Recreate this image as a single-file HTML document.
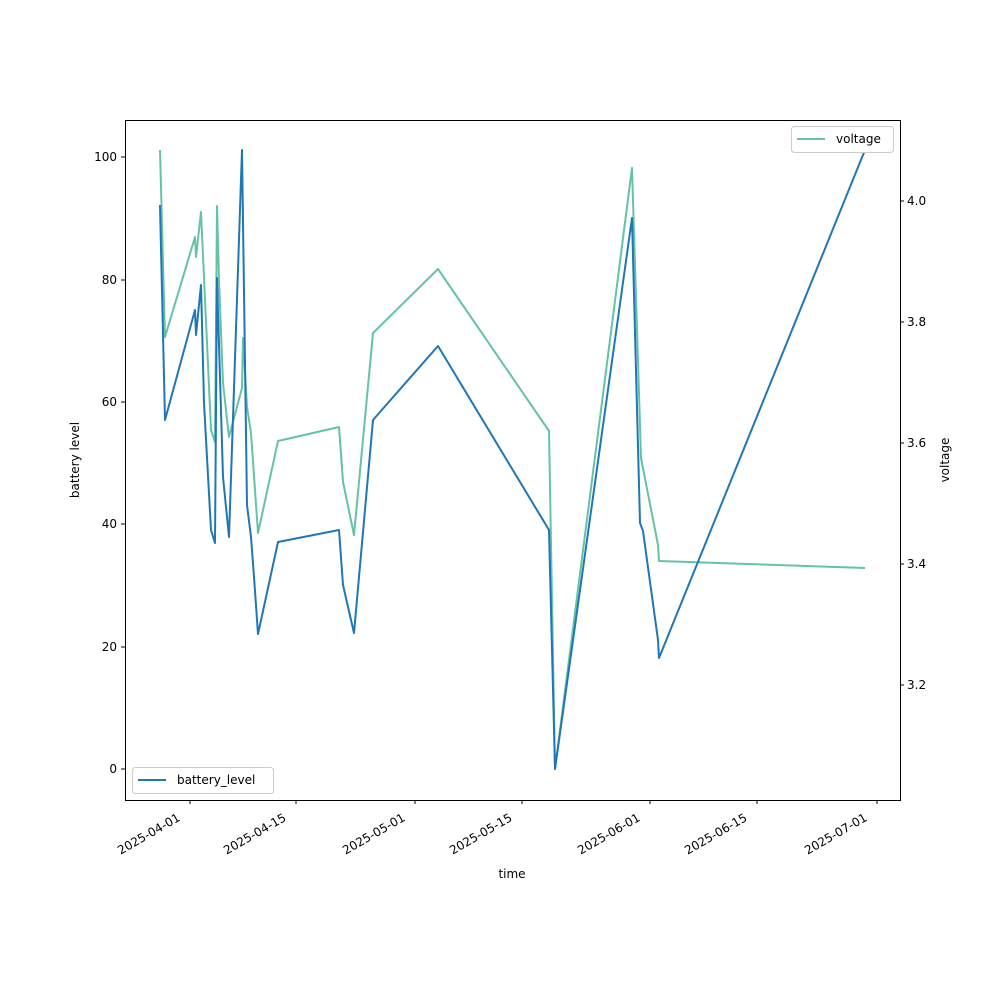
<!DOCTYPE html>
<html><head><style>body{margin:0;background:#fff}svg{display:block}text{font-family:"DejaVu Sans","Liberation Sans",sans-serif;font-size:12px;fill:#000}</style></head>
<body>
<svg width="1000" height="1000" viewBox="0 0 1000 1000" xmlns="http://www.w3.org/2000/svg">
<rect width="1000" height="1000" fill="#fff"/>
<polyline fill="none" stroke="#66c2a5" stroke-width="2" stroke-linejoin="round" points="160,150 165,337 195,237 196,257 201,212 211,430 215,442 217,206 219,280 223,383 229,437 242,388 243,338 247,407 251,433 258,533 278,441 339,427 343,482 354,535 373,333 438,269 549,431 555,769 632,168 641,458 658,545 659,561 865,568"/>
<polyline fill="none" stroke="#1f77b4" stroke-width="2" stroke-linejoin="round" points="160,205 165,420 195,310 196,335 201,285 204,403 211,530 215,543 217,278 223,477 229,537 242,150 247,505 251,537 254,577 258,634 278,542 339,530 343,585 354,633 373,420 438,346 549,530 555,769 632,218 640,523 643,531 658,640 659,658 865,150"/>
<rect x="125.5" y="120.5" width="775" height="680" fill="none" stroke="#000" stroke-width="1"/>
<g stroke="#000">
<line x1="125" x2="121" y1="769" y2="769"/><line x1="125" x2="121" y1="647" y2="647"/><line x1="125" x2="121" y1="524" y2="524"/><line x1="125" x2="121" y1="402" y2="402"/><line x1="125" x2="121" y1="280" y2="280"/><line x1="125" x2="121" y1="157" y2="157"/>
<line x1="900" x2="904" y1="685" y2="685"/><line x1="900" x2="904" y1="564" y2="564"/><line x1="900" x2="904" y1="443" y2="443"/><line x1="900" x2="904" y1="322" y2="322"/><line x1="900" x2="904" y1="201" y2="201"/>
<line y1="800" y2="804" x1="190" x2="190"/><line y1="800" y2="804" x1="296" x2="296"/><line y1="800" y2="804" x1="415" x2="415"/><line y1="800" y2="804" x1="522" x2="522"/><line y1="800" y2="804" x1="650" x2="650"/><line y1="800" y2="804" x1="757" x2="757"/><line y1="800" y2="804" x1="877" x2="877"/>
</g>
<g text-anchor="end">
<text x="117" y="773">0</text><text x="117" y="651">20</text><text x="117" y="528">40</text><text x="117" y="406">60</text><text x="117" y="284">80</text><text x="117" y="161">100</text>
</g>
<g>
<text x="907" y="689">3.2</text><text x="907" y="568">3.4</text><text x="907" y="447">3.6</text><text x="907" y="326">3.8</text><text x="907" y="205">4.0</text>
</g>
<g text-anchor="end">
<text transform="translate(181,820) rotate(-30)">2025-04-01</text>
<text transform="translate(287,820) rotate(-30)">2025-04-15</text>
<text transform="translate(406,820) rotate(-30)">2025-05-01</text>
<text transform="translate(513,820) rotate(-30)">2025-05-15</text>
<text transform="translate(641,820) rotate(-30)">2025-06-01</text>
<text transform="translate(748,820) rotate(-30)">2025-06-15</text>
<text transform="translate(868,820) rotate(-30)">2025-07-01</text>
</g>
<text x="512" y="878" text-anchor="middle">time</text>
<text transform="translate(79,460) rotate(-90)" text-anchor="middle">battery level</text>
<text transform="translate(949,460) rotate(-90)" text-anchor="middle">voltage</text>
<rect x="791.5" y="126.5" width="102" height="26" rx="3" fill="#fff" stroke="#ccc"/>
<line x1="797" x2="825" y1="139" y2="139" stroke="#66c2a5" stroke-width="2"/>
<text x="836" y="143">voltage</text>
<rect x="132.5" y="767.5" width="141" height="26" rx="3" fill="#fff" stroke="#ccc"/>
<line x1="138" x2="166" y1="780" y2="780" stroke="#1f77b4" stroke-width="2"/>
<text x="177" y="784">battery_level</text>
</svg>
</body></html>
